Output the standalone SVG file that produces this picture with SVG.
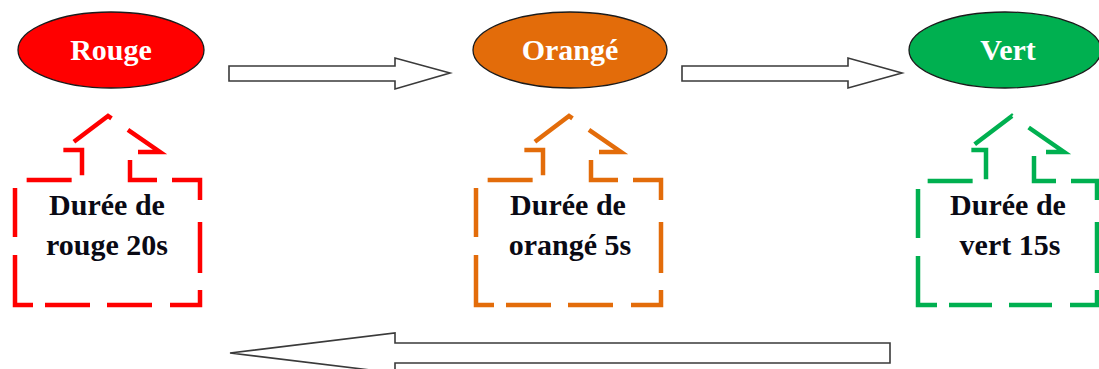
<svg xmlns="http://www.w3.org/2000/svg" width="1099" height="369" viewBox="0 0 1099 369">
  <style>
    .state { stroke: #1a1a1a; stroke-width: 1.3; }
    .state-label { font-family: "Liberation Serif", "Times New Roman", serif; font-weight: bold; font-size: 30px; fill: #ffffff; text-anchor: middle; }
    /* long-dash outline of the up-arrow callouts, dash runs laid out along the outline */
    .timer { fill: none; stroke-width: 4.5; stroke-linejoin: miter; stroke-linecap: butt;
             stroke-dasharray: 0 8 49 18 68 12 45 17 45 18 45 17 51 22 48 15 47 16 61 20 47 14 44 15 45 20; }
    .timer.narrow { stroke-dasharray: 0 8 49 18 68 12 43 17 43 18 42 17 51 22 45 15 47 16 61 20 47 14 44 15 45 20; }
    .timer-label { font-family: "Liberation Serif", "Times New Roman", serif; font-weight: bold; font-size: 30px; fill: #0a0a14; text-anchor: middle; }
    .flow { fill: #ffffff; stroke: #3a3a3a; stroke-width: 1.6; stroke-linejoin: miter; }
  </style>

  <!-- traffic light states -->
  <g id="rouge">
    <ellipse class="state" cx="111" cy="50" rx="93" ry="38" fill="#ff0000"/>
    <text class="state-label" x="111" y="60">Rouge</text>
  </g>
  <g id="orange">
    <ellipse class="state" cx="570" cy="50" rx="97" ry="38" fill="#e36c0a"/>
    <text class="state-label" x="570" y="60">Orangé</text>
  </g>
  <g id="vert">
    <ellipse class="state" cx="1005" cy="50" rx="96" ry="38" fill="#00b050"/>
    <text class="state-label" x="1008" y="60">Vert</text>
  </g>

  <!-- duration callouts pointing up at each state -->
  <g id="duree-rouge">
    <path class="timer" stroke="#ff0000" d="M15,180 V305 H200 V180 H130 V152 H160 L108,116 L63,150 H82 V180 Z"/>
    <text class="timer-label" x="107" y="215">Durée de</text>
    <text class="timer-label" x="107" y="255">rouge 20s</text>
  </g>
  <g id="duree-orange">
    <path class="timer" stroke="#e36c0a" d="M476,180 V305 H661 V180 H591 V152 H621 L569,116 L524,150 H543 V180 Z"/>
    <text class="timer-label" x="568" y="215">Durée de</text>
    <text class="timer-label" x="570" y="255">orangé 5s</text>
  </g>
  <g id="duree-vert">
    <path class="timer narrow" stroke="#00b050" d="M918,181 V305 H1097 V181 H1034 V152 H1064 L1012,116 L967,150 H986 V181 Z"/>
    <text class="timer-label" x="1008" y="215">Durée de</text>
    <text class="timer-label" x="1010" y="255">vert 15s</text>
  </g>

  <!-- block arrows between states -->
  <g id="connectors">
    <polygon class="flow" points="229,66 395,66 395,58 450,73 395,89 395,81 229,81"/>
    <polygon class="flow" points="682,66 848,66 848,58 902,73 848,88 848,81 682,81"/>
    <polygon class="flow" points="890,343 395,343 395,333 230,353 395,373 395,363 890,363"/>
  </g>
</svg>
